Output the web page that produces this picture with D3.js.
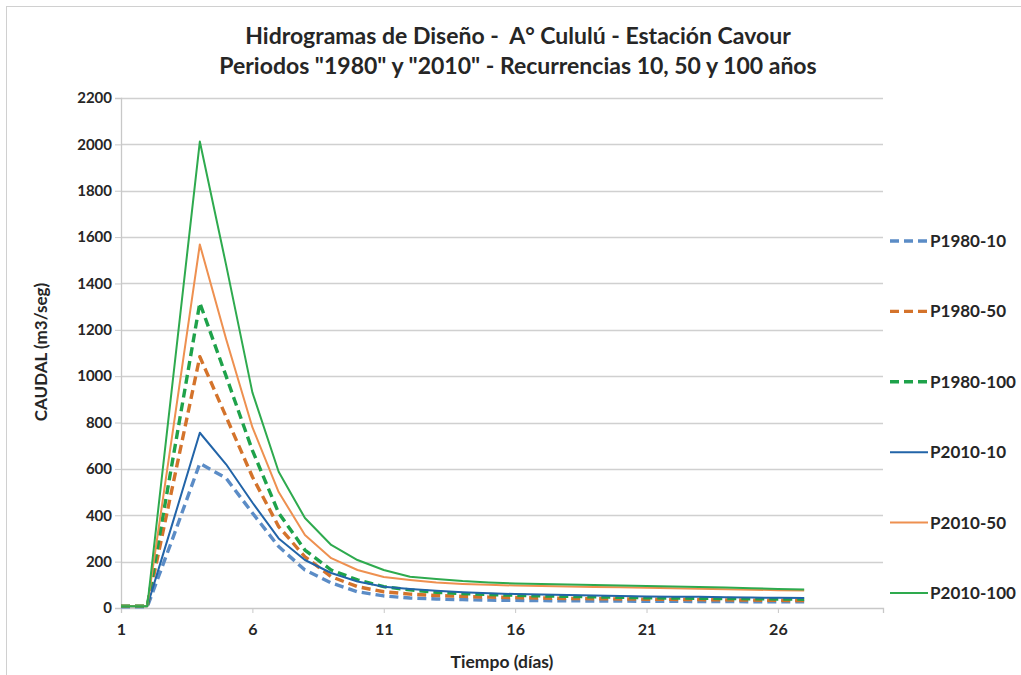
<!DOCTYPE html>
<html>
<head>
<meta charset="utf-8">
<script src="https://cdn.jsdelivr.net/npm/d3@7"></script>
<style>
  html, body { margin: 0; padding: 0; background: #fff; }
  svg { display: block; }
  text { font-family: Lato, "Open Sans", sans-serif; font-weight: bold; fill: #262626; }
</style>
</head>
<body>
<svg id="chart" width="1021" height="675"></svg>
<script>
// ---- data ----
const days = d3.range(1, 28);
const P1980_10  = [5, 5, 310, 624, 560, 410, 265, 164, 108, 70, 52, 43, 39, 36, 34, 33, 32, 31, 30, 30, 29, 29, 28, 28, 27, 27, 27];
const P1980_50  = [8, 8, 545, 1084, 825, 566, 351, 221, 135, 92, 70, 60, 54, 50, 47, 45, 43, 41, 40, 39, 38, 37, 36, 35, 34, 33, 32];
const P1980_100 = [8, 8, 660, 1316, 1000, 680, 410, 250, 164, 121, 92, 78, 68, 62, 58, 55, 52, 50, 48, 46, 44, 43, 42, 41, 40, 39, 38];
const P2010_10  = [8, 8, 380, 756, 620, 455, 300, 207, 151, 114, 92, 82, 74, 68, 64, 60, 58, 56, 54, 52, 50, 49, 48, 46, 45, 44, 43];
const P2010_50  = [8, 8, 785, 1568, 1160, 780, 500, 315, 215, 164, 134, 121, 110, 104, 100, 97, 95, 93, 91, 89, 87, 85, 83, 81, 79, 77, 75];
const P2010_100 = [8, 8, 1010, 2012, 1480, 930, 588, 388, 272, 207, 164, 135, 125, 116, 110, 106, 103, 101, 99, 97, 95, 93, 91, 88, 85, 82, 80];

const seriesNames = ["P1980-10", "P1980-50", "P1980-100", "P2010-10", "P2010-50", "P2010-100"];
const seriesValues = [P1980_10, P1980_50, P1980_100, P2010_10, P2010_50, P2010_100];
const xTickValues = [1, 6, 11, 16, 21, 26];
const yTickValues = d3.range(0, 2201, 200);

const titleLines = ["Hidrogramas de Diseño -  A° Cululú - Estación Cavour",
                    "Periodos \"1980\" y \"2010\" - Recurrencias 10, 50 y 100 años"];
const xTitle = "Tiempo (días)";
const yTitle = "CAUDAL (m3/seg)";

// ---- styles ----
const styles = {
  "P1980-10":  { color: "#5b8cc6", width: 3.4, dash: "9,5" },
  "P1980-50":  { color: "#d4732b", width: 3.4, dash: "9,5" },
  "P1980-100": { color: "#1ea24a", width: 3.4, dash: "9,5" },
  "P2010-10":  { color: "#2264a8", width: 2, dash: null },
  "P2010-50":  { color: "#ee9050", width: 2, dash: null },
  "P2010-100": { color: "#2eaa4e", width: 2, dash: null }
};

const svg = d3.select("#chart");

// outer border
svg.append("rect").attr("x", 6.5).attr("y", 6.5).attr("width", 1100).attr("height", 1000)
  .attr("fill", "none").attr("stroke", "#d0d0d0").attr("stroke-width", 1);

const x = d3.scaleLinear().domain([1, 30]).range([121, 883]);
const y = d3.scaleLinear().domain([0, 2200]).range([608, 98]);

// gridlines
svg.append("g").selectAll("line").data(yTickValues.filter(v => v > 0)).join("line")
  .attr("x1", x(1)).attr("x2", x(30))
  .attr("y1", d => Math.round(y(d)) + 0.5).attr("y2", d => Math.round(y(d)) + 0.5)
  .attr("stroke", "#d0d0d0").attr("stroke-width", 1.4);

// y axis
const yAxis = svg.append("g").attr("transform", `translate(${x(1)},0)`)
  .call(d3.axisLeft(y).tickValues(yTickValues).tickSize(6).tickPadding(3).tickFormat(d3.format("d")));
yAxis.select(".domain").attr("stroke", "#c8c8c8").attr("stroke-width", 1.3);
yAxis.selectAll(".tick line").attr("stroke", "#c8c8c8");
yAxis.selectAll(".tick text").style("font-size", "15px").style("font-family", "Lato").style("font-weight", "bold").attr("fill", "#262626");

// x axis
const xAxis = svg.append("g").attr("transform", `translate(0,${y(0)})`)
  .call(d3.axisBottom(x).tickValues(xTickValues).tickSize(5).tickPadding(11).tickFormat(d3.format("d")));
xAxis.select(".domain").attr("stroke", "#c8c8c8").attr("stroke-width", 1.3);
xAxis.selectAll(".tick line").attr("stroke", "#c8c8c8");
xAxis.selectAll(".tick text").style("font-size", "16px").style("font-family", "Lato").style("font-weight", "bold").attr("fill", "#262626");

// lines
const line = d3.line().x((d, i) => x(days[i])).y(d => y(d));
seriesNames.forEach((name, k) => {
  const s = styles[name];
  svg.append("path").datum(seriesValues[k])
    .attr("d", line)
    .attr("fill", "none")
    .attr("stroke", s.color)
    .attr("stroke-width", s.width)
    .attr("stroke-dasharray", s.dash)
    .attr("stroke-linejoin", "round");
});

// titles
svg.append("g").selectAll("text").data(titleLines).join("text")
  .attr("x", 518).attr("y", (d, i) => 44 + i * 30)
  .attr("text-anchor", "middle")
  .style("font-size", "23px")
  .style("white-space", "pre")
  .text(d => d);

svg.append("text").attr("x", 502).attr("y", 668).attr("text-anchor", "middle")
  .style("font-size", "17.5px").text(xTitle);

svg.append("text").attr("transform", "translate(47,352) rotate(-90)").attr("text-anchor", "middle")
  .style("font-size", "17px").text(yTitle);

// legend
const legend = svg.append("g").selectAll("g").data(seriesNames).join("g")
  .attr("transform", (d, i) => `translate(890,${241 + i * 70.4})`);
legend.append("line").attr("x1", 0).attr("x2", 38).attr("y1", 0).attr("y2", 0)
  .attr("stroke", d => styles[d].color)
  .attr("stroke-width", d => styles[d].width)
  .attr("stroke-dasharray", d => styles[d].dash);
legend.append("text").attr("x", 40).attr("y", 6)
  .style("font-size", "17px").text(d => d);
</script>
</body>
</html>
